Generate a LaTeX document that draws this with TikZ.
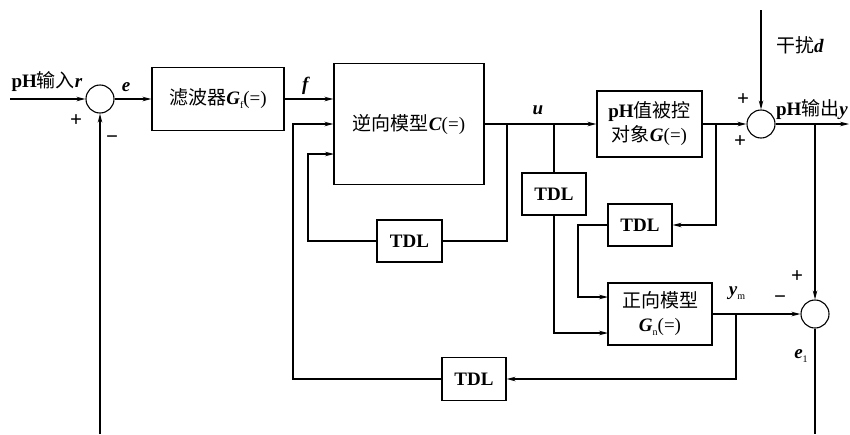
\documentclass[tikz,border=0pt]{standalone}
\usepackage{fontspec}
\setmainfont{Liberation Serif}
\newfontfamily\cjk{Noto Sans CJK SC}
\usetikzlibrary{arrows.meta}
\newcommand\vb[1]{\textbf{\textit{#1}}}
\newcommand\sbx[1]{\raisebox{-0.45ex}{\fontsize{10}{10}\selectfont #1}}
\begin{document}
\begin{tikzpicture}[x=1pt,y=-1pt,
  font=\fontsize{19}{22}\selectfont,
  line width=1.1pt,
  arr/.style={-{Stealth[length=9pt,width=4.5pt]}},
  blk/.style={draw,rectangle,inner sep=0pt,align=center},
  sumj/.style={draw,circle,minimum size=28pt,inner sep=0pt},
  lbl/.style={inner sep=0pt},
  sgn/.style={inner sep=0pt,font=\fontsize{21}{21}\selectfont\bfseries}]
\useasboundingbox (0,0) rectangle (850,434);
% blocks
\node[sumj] (s1) at (100,99) {};
\node[blk,minimum width=132pt,minimum height=63pt] (filt) at (218,99) {{\cjk 滤波器}\vb{G}\sbx{f}(=)};
\node[blk,minimum width=150pt,minimum height=121pt] (inv) at (409,124) {{\cjk 逆向模型}\vb{C}(=)};
\node[blk,minimum width=105pt,minimum height=66pt,font=\fontsize{19}{24}\selectfont] (plant) at (649.5,124) {\textbf{pH}{\cjk 值被控}\\{\cjk 对象}\vb{G}(=)};
\node[sumj] (s3) at (761,124) {};
\node[blk,minimum width=64pt,minimum height=42pt] (tdl2) at (554,194) {\textbf{TDL}};
\node[blk,minimum width=65pt,minimum height=42pt] (tdl1) at (409.5,241) {\textbf{TDL}};
\node[blk,minimum width=64pt,minimum height=42pt] (tdl3) at (640,225) {\textbf{TDL}};
\node[blk,minimum width=104pt,minimum height=62pt,font=\fontsize{19}{24}\selectfont] (fwd) at (660,314) {{\cjk 正向模型}\\\vb{G}\sbx{n}(=)};
\node[sumj] (s2) at (815,314) {};
\node[blk,minimum width=64pt,minimum height=43pt] (tdl4) at (474,379) {\textbf{TDL}};
% coordinates
\coordinate (rin) at (10,99);
\coordinate (fbl) at (100,434);
\coordinate (b1) at (507,124);
\coordinate (b2) at (554,124);
\coordinate (b3) at (716,124);
\coordinate (b4) at (815,124);
\coordinate (b5) at (736,314);
\coordinate (k1) at (308,241);
\coordinate (k2) at (578,225);
\coordinate (k3) at (293,379);
\coordinate (inv3) at (334,154);
\coordinate (fin1) at (608,297);
\coordinate (fin2) at (608,333);
\coordinate (dtop) at (761,10);
\coordinate (yout) at (849,124);
\coordinate (e1end) at (815,434);
% connectors
\draw[arr] (rin) -- (s1.west);
\draw[arr] (fbl) -- (s1.south);
\draw[arr] (s1.east) -- (filt.west);
\draw[arr] (filt.east) -- (filt.east -| inv.west);
\draw[arr] (inv.east) -- (plant.west);
\draw (b2) -- (tdl2.north);
\draw[arr] (tdl2.south) |- (fin2);
\draw (b1) |- (tdl1.east);
\draw[arr] (tdl1.west) -- (k1) |- (inv3);
\draw[arr] (plant.east) -- (s3.west);
\draw[arr] (b3) |- (tdl3.east);
\draw[arr] (tdl3.west) -- (k2) |- (fin1);
\draw[arr] (dtop) -- (s3.north);
\draw[arr] (s3.east) -- (yout);
\draw[arr] (b4) -- (s2.north);
\draw[arr] (fwd.east) -- (s2.west);
\draw[arr] (b5) |- (tdl4.east);
\draw[arr] (tdl4.west) -- (k3) |- (inv.west);
\draw (s2.south) -- (e1end);
% labels
\node[lbl] (lr) at (47,82) {\textbf{pH}{\cjk 输入}\vb{r}};
\node[sgn] (lp1) at (76,121) {+};
\node[sgn] (lm1) at (112,140) {−};
\node[lbl] (le) at (126,87) {\vb{e}};
\node[lbl] (lf) at (306,86) {\vb{f}};
\node[lbl] (lu) at (538,110) {\vb{u}};
\node[lbl] (ld) at (800,45) {{\cjk 干扰}\vb{d}};
\node[sgn] (lp2) at (743,100) {+};
\node[sgn] (lp3) at (740,142) {+};
\node[lbl] (ly) at (812,110) {\textbf{pH}{\cjk 输出}\vb{y}};
\node[lbl] (lym) at (737,293) {\vb{y}\sbx{m}};
\node[sgn] (lm2) at (780,300) {−};
\node[sgn] (lp4) at (797,277) {+};
\node[lbl] (le1) at (801,356) {\vb{e}\sbx{1}};
\end{tikzpicture}
\end{document}
